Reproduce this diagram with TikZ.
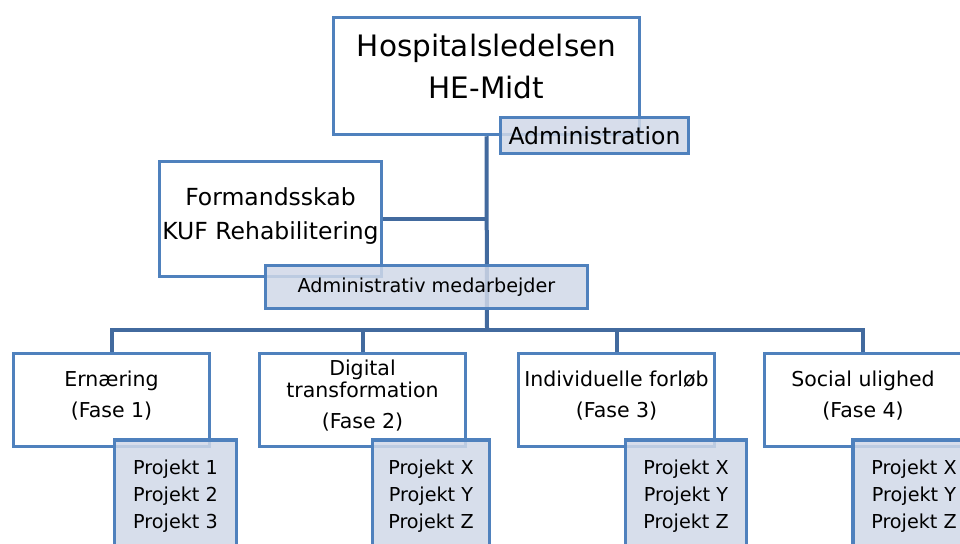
\documentclass[tikz,border=0pt]{standalone}
\usepackage{fontspec}
\setmainfont{DejaVu Sans}
\usepackage{tikz}
\usetikzlibrary{positioning, backgrounds, calc}
\definecolor{orgBlue}{RGB}{79,129,189}
\definecolor{orgLine}{RGB}{66,106,158}
\definecolor{orgFill}{RGB}{208,216,232}

\begin{document}
\begin{tikzpicture}[
    x=1pt, y=-1pt,
    unit/.style={rectangle, draw=orgBlue, line width=3.5pt, fill=white, align=center, inner sep=0pt},
    sub/.style={unit, fill=orgFill, fill opacity=0.85, text opacity=1},
    link/.style={draw=orgLine, line width=4pt},
    big/.style={font=\fontsize{29.5}{42}\selectfont},
    mid/.style={font=\fontsize{23.5}{34}\selectfont},
    phase/.style={font=\fontsize{20.5}{31}\selectfont},
    small/.style={font=\fontsize{19.2}{27}\selectfont}
]
\clip (0,0) rectangle (960,543);
% Nodes
\node[unit, big, text depth=20pt, minimum width=306pt, minimum height=117pt] (hosp) at (486.5,76) {Hospitalsledelsen\\HE-Midt};
\node[sub, mid, minimum width=188pt, minimum height=36pt] (adm) at (594.5,135.5) {Administration};
\node[unit, mid, text depth=10pt, minimum width=222pt, minimum height=115pt] (form) at (270.5,219) {Formandsskab\\KUF Rehabilitering};
\node[sub, small, minimum width=322pt, minimum height=43pt] (medarb) at (426.5,287) {Administrativ medarbejder};

% Phases
\node[unit, phase, text depth=12pt, minimum width=196pt, minimum height=93pt] (ph1) at (111.5,400) {Ernæring\\(Fase 1)};
\node[unit, phase, text depth=12pt, minimum width=206pt, minimum height=93pt] (ph2) at (362.5,400) {Digital\\[-9pt]transformation\\(Fase 2)};
\node[unit, phase, text depth=12pt, minimum width=196pt, minimum height=93pt] (ph3) at (616.5,400) {Individuelle forløb\\(Fase 3)};
\node[unit, phase, text depth=12pt, minimum width=197pt, minimum height=93pt] (ph4) at (863,400) {Social ulighed\\(Fase 4)};

% Projects
\node[sub, small, minimum width=122pt, minimum height=112pt] (pr1) at (175.5,496) {Projekt 1\\Projekt 2\\Projekt 3};
\node[sub, small, minimum width=117pt, minimum height=112pt] (pr2) at (431,496) {Projekt X\\Projekt Y\\Projekt Z};
\node[sub, small, minimum width=121pt, minimum height=112pt] (pr3) at (686,496) {Projekt X\\Projekt Y\\Projekt Z};
\node[sub, small, minimum width=122pt, minimum height=112pt] (pr4) at (914,496) {Projekt X\\Projekt Y\\Projekt Z};

% Connectors
\coordinate (bus) at (487,330);
\begin{scope}[on background layer]
    \draw[link] (hosp.south) -- (bus);
    \draw[link] (form.east) -- (form.east -| bus);
    \draw[link] (ph1.north) |- (bus) -| (ph4.north);
    \draw[link] (ph2.north) -- (ph2.north |- bus);
    \draw[link] (ph3.north) -- (ph3.north |- bus);
\end{scope}
\end{tikzpicture}
\end{document}
